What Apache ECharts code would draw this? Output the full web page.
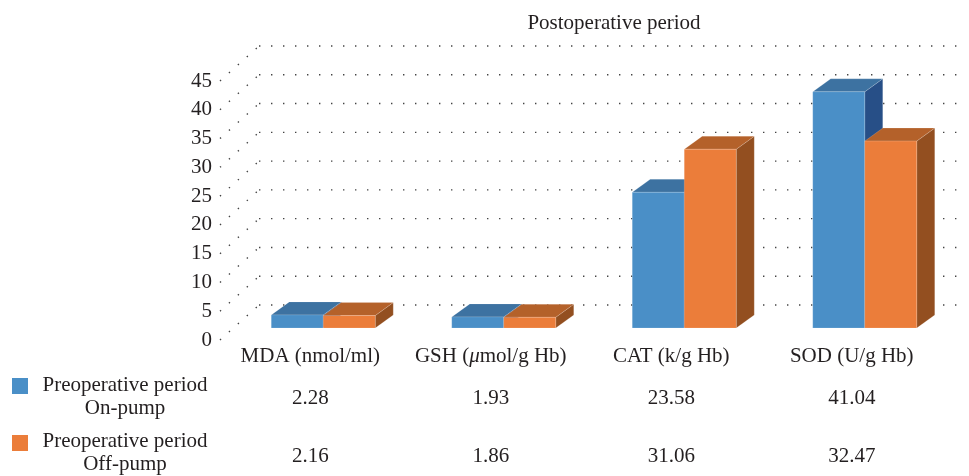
<!DOCTYPE html>
<html style="height: 100%">
<head>
    <meta charset="utf-8">
    <script src="https://cdn.jsdelivr.net/npm/echarts@6/dist/echarts.min.js"></script>
</head>
<body style="height: 100%; margin: 0; background: #fff">
    <div id="main" style="width:969px; height:476px;"></div>
    <script type="text/javascript">
    // data
    var categories = ['MDA (nmol/ml)', 'GSH ({mu|μ}mol/g Hb)', 'CAT (k/g Hb)', 'SOD (U/g Hb)'];
    var onPump = [2.28, 1.93, 23.58, 41.04];
    var offPump = [2.16, 1.86, 31.06, 32.47];
    var seriesNames = ['Preoperative period\nOn-pump', 'Preoperative period\nOff-pump'];
    var yTicks = [0, 5, 10, 15, 20, 25, 30, 35, 40, 45];

    var FONT = '"Liberation Serif", "DejaVu Serif", serif';
    var FS = 21;
    // front / top / side shades for each series
    var shades = [
        ['#4a8fc7', '#3d72a1', '#274f87'],
        ['#eb7d3a', '#b4612a', '#934f20']
    ];
    var wallDx = 39, wallDy = -35;   // depth of the back wall
    var barDx = 13, barDy = -12;     // bars sit a bit behind the front
    var depthDx = 18, depthDy = -13; // bar thickness
    var barW = 52;
    var rowY = [398, 456];

    var myChart = echarts.init(document.getElementById('main'));

    function barItem(sIdx) {
        return function (params, api) {
            var i = api.value(0);
            var top = api.coord([i, api.value(1)]);
            var base = api.coord([i, 0]);
            var x0 = top[0] + barDx + (sIdx === 0 ? -barW : 0);
            var x1 = x0 + barW;
            var yt = top[1] + barDy;
            var yb = base[1] + barDy;
            var c = shades[sIdx];
            var edge = { stroke: 'rgba(255,255,255,0.25)', lineWidth: 0.6 };
            return {
                type: 'group',
                children: [
                    { type: 'polygon', shape: { points: [[x1, yt], [x1 + depthDx, yt + depthDy], [x1 + depthDx, yb + depthDy], [x1, yb]] },
                      style: Object.assign({ fill: c[2] }, edge) },
                    { type: 'polygon', shape: { points: [[x0, yt], [x0 + depthDx, yt + depthDy], [x1 + depthDx, yt + depthDy], [x1, yt]] },
                      style: Object.assign({ fill: c[1] }, edge) },
                    { type: 'rect', shape: { x: x0, y: yt, width: barW, height: yb - yt },
                      style: Object.assign({ fill: c[0] }, edge) }
                ]
            };
        };
    }

    function rowText(sIdx) {
        return function (params, api) {
            var p = api.coord([api.value(0), 0]);
            return {
                type: 'text',
                style: {
                    x: p[0], y: rowY[sIdx], text: String(api.value(1)),
                    align: 'center', verticalAlign: 'middle',
                    font: FS + 'px ' + FONT, fill: '#231f20'
                }
            };
        };
    }

    var option = {
        animation: false,
        title: {
            text: 'Postoperative period',
            left: 609, top: 8, textAlign: 'center',
            textStyle: { fontFamily: FONT, fontSize: FS, fontWeight: 'normal', color: '#231f20' }
        },
        grid: { left: 220, right: 27, top: 81, bottom: 136 },
        xAxis: {
            type: 'category',
            data: categories,
            axisLine: { show: false },
            axisTick: { show: false },
            axisLabel: {
                interval: 0,
                margin: 6,
                fontFamily: FONT, fontSize: FS, color: '#231f20',
                rich: { mu: { fontFamily: FONT, fontSize: FS, fontStyle: 'italic', color: '#231f20' } }
            }
        },
        yAxis: {
            type: 'value',
            min: 0, max: 45, interval: 5,
            axisLine: { show: false },
            axisTick: { show: false },
            splitLine: { show: false },
            axisLabel: { margin: 8, fontFamily: FONT, fontSize: FS, color: '#231f20' }
        },
        series: [
            {
                // dotted perspective grid
                type: 'custom',
                silent: true,
                clip: false,
                data: yTicks.map(function (v) { return [0, v]; }),
                renderItem: function (params, api) {
                    var y = api.coord([0, api.value(1)])[1];
                    var x = params.coordSys.x;
                    var ls = { stroke: '#444', lineWidth: 1.4, lineDash: [1.4, 10.6] };
                    return {
                        type: 'group',
                        children: [
                            { type: 'line', shape: { x1: x, y1: y, x2: x + wallDx, y2: y + wallDy }, style: ls },
                            { type: 'line', shape: { x1: x + wallDx, y1: y + wallDy, x2: 965, y2: y + wallDy }, style: ls }
                        ]
                    };
                }
            },
            {
                name: seriesNames[0], type: 'custom', clip: false,
                data: onPump.map(function (v, i) { return [i, v]; }),
                renderItem: barItem(0)
            },
            {
                name: seriesNames[1], type: 'custom', clip: false,
                data: offPump.map(function (v, i) { return [i, v]; }),
                renderItem: barItem(1)
            },
            {
                type: 'custom', clip: false, silent: true,
                data: onPump.map(function (v, i) { return [i, v]; }),
                renderItem: rowText(0)
            },
            {
                type: 'custom', clip: false, silent: true,
                data: offPump.map(function (v, i) { return [i, v]; }),
                renderItem: rowText(1)
            }
        ],
        graphic: seriesNames.map(function (name, k) {
            return {
                type: 'group',
                children: [
                    { type: 'rect', shape: { x: 12, y: 378 + k * 57, width: 16, height: 16 }, style: { fill: shades[k][0] } },
                    { type: 'text', style: {
                        x: 125, y: 374 + k * 56, text: name, align: 'center', verticalAlign: 'top',
                        font: FS + 'px ' + FONT, lineHeight: 23, fill: '#231f20'
                    } }
                ]
            };
        })
    };

    myChart.setOption(option);
    </script>
</body>
</html>
